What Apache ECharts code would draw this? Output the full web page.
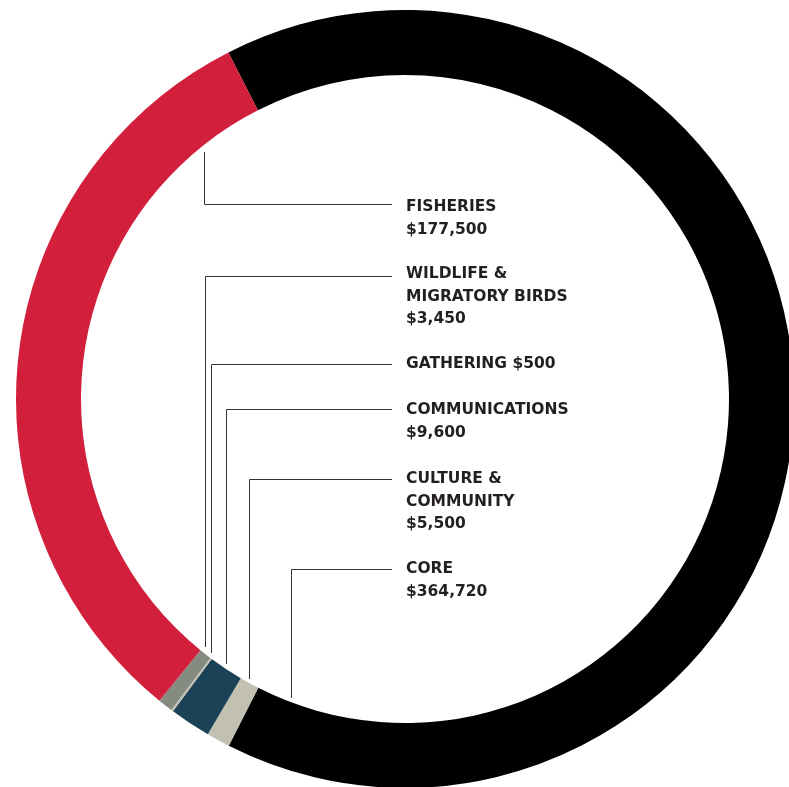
<!DOCTYPE html>
<html>
<head>
<meta charset="utf-8">
<script src="https://cdn.jsdelivr.net/npm/echarts@6/dist/echarts.min.js"></script>
<style>
  html, body { margin: 0; padding: 0; background: #ffffff; }
  #chart { width: 789px; height: 787px; }
</style>
</head>
<body>
<div id="chart"></div>
<script>
// Budget allocation, listed clockwise from the top of the ring
const categories = ['CORE', 'CULTURE &\nCOMMUNITY', 'COMMUNICATIONS', 'GATHERING', 'WILDLIFE &\nMIGRATORY BIRDS', 'FISHERIES'];
const amounts = [364720, 5500, 9600, 500, 3450, 177500];
const amountInline = [false, false, false, true, false, false];

// Ring geometry and colours
const CX = 405, CY = 399, R_IN = 324, R_OUT = 389;
const START_ANGLE = 117;
const sliceColors = ['#000000', '#c2c0b1', '#1b4256', '#c2c0b1', '#858b81', '#d21f3c'];

// Callout placement: top of each label block, y of its leader, and where along the slice the leader points
const labelLeft = 406;
const leaderEndX = 392;
const labelTops = [557.5, 467.5, 398.5, 353, 262.5, 195.5];
const leaderYs = [569, 479, 409, 364, 276, 204];
const anchorFrac = [0.973, 0.5, 0.5, 0.5, 0.5, 0.90];
const leaderGap = [4, 4, 5, 6, 7, 7];

const total = amounts.reduce((a, b) => a + b, 0);

// Compass angle (degrees clockwise from 12 o'clock) at a fraction along slice i
function sliceAngle(i, f) {
  let before = 0;
  for (let k = 0; k < i; k++) before += amounts[k];
  return (90 - START_ANGLE) + 360 * (before + f * amounts[i]) / total;
}

// Snap to pixel centres so the 1px leaders stay crisp
const px = v => Math.round(v) + 0.5;

function leaderPoints(i) {
  const a = sliceAngle(i, anchorFrac[i]) * Math.PI / 180;
  const x = px(CX + R_IN * Math.sin(a));
  const yRing = CY - R_IN * Math.cos(a);
  const y0 = yRing > CY ? yRing - leaderGap[i] : yRing + leaderGap[i];
  const yl = px(leaderYs[i]);
  return [[x, Math.round(y0)], [x, yl], [leaderEndX, yl]];
}

const chart = echarts.init(document.getElementById('chart'), null, { renderer: 'canvas' });

chart.setOption({
  backgroundColor: '#ffffff',
  animation: false,
  series: [{
    type: 'pie',
    center: [CX, CY],
    radius: [R_IN, R_OUT],
    startAngle: START_ANGLE,
    clockwise: true,
    avoidLabelOverlap: false,
    silent: true,
    emphasis: { disabled: true },
    data: categories.map((name, i) => ({
      name: name,
      value: amounts[i],
      itemStyle: { color: sliceColors[i] }
    })),
    label: {
      show: true,
      position: 'outside',
      formatter: p => p.name + (amountInline[p.dataIndex] ? ' ' : '\n') + '$' + p.value.toLocaleString('en-US'),
      fontFamily: '"DejaVu Sans"',
      fontWeight: 'bold',
      fontSize: 15.5,
      lineHeight: 22.7,
      color: '#231f20'
    },
    labelLine: {
      show: true,
      lineStyle: { color: '#333333', width: 1 }
    },
    labelLayout: p => ({
      x: labelLeft,
      y: labelTops[p.dataIndex],
      align: 'left',
      verticalAlign: 'top',
      labelLinePoints: leaderPoints(p.dataIndex)
    })
  }]
});
</script>
</body>
</html>
